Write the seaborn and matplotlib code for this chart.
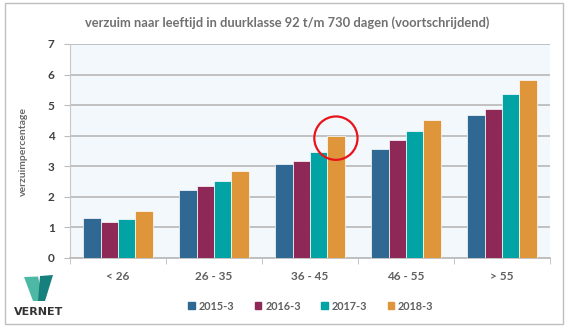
import matplotlib
matplotlib.use("Agg")
import matplotlib.pyplot as plt
import seaborn as sns
import pandas as pd
from matplotlib.patches import Ellipse, Rectangle, Polygon

categories = ["< 26", "26 - 35", "36 - 45", "46 - 55", "> 55"]
periods = ["2015-3", "2016-3", "2017-3", "2018-3"]
v2015 = [1.32, 2.23, 3.09, 3.56, 4.67]
v2016 = [1.17, 2.35, 3.18, 3.86, 4.86]
v2017 = [1.27, 2.53, 3.46, 4.16, 5.35]
v2018 = [1.55, 2.86, 4.00, 4.52, 5.83]
yticks = [0, 1, 2, 3, 4, 5, 6, 7]
title = "verzuim naar leeftijd in duurklasse 92 t/m 730 dagen (voortschrijdend)"
ylabel = "verzuimpercentage"

colors = ["#2F6893", "#8E2857", "#02A3A4", "#DF963B"]

rows = []
for p, vals in zip(periods, [v2015, v2016, v2017, v2018]):
    for c, v in zip(categories, vals):
        rows.append({"leeftijd": c, "periode": p, "pct": v})
df = pd.DataFrame(rows)

sns.set_style("white")
plt.rcParams["font.family"] = ["Lato", "DejaVu Sans"]

fig = plt.figure(figsize=(5.7, 3.3), dpi=100)
ax = fig.add_axes([70 / 570, 1 - 258 / 330, 480 / 570, (258 - 44) / 330])
ax.set_facecolor("#F3F8FC")

sns.barplot(data=df, x="leeftijd", y="pct", hue="periode", order=categories,
            hue_order=periods, palette=colors, saturation=1, width=0.72,
            edgecolor="white", linewidth=0.5, ax=ax, zorder=3)

ax.set_ylim(0, 7)
ax.set_xlim(-0.5, len(categories) - 0.5)
ax.set_yticks(yticks)
ax.set_yticklabels([str(t) for t in yticks], fontsize=8.5, fontweight="bold", color="#404040")
ax.grid(axis="y", color="#BDBDBD", linewidth=1.3, zorder=0)
ax.set_axisbelow(True)
for s in ["top", "right"]:
    ax.spines[s].set_visible(False)
ax.spines["left"].set_color("#C8C8C8")
ax.spines["bottom"].set_color("#BDBDBD")
ax.spines["bottom"].set_linewidth(1.3)
ax.tick_params(axis="y", length=4, color="#BDBDBD", pad=7, left=True)
ax.set_xticks(range(len(categories)))
ax.set_xticklabels(categories, fontsize=8.5, fontweight="bold", color="#606060")
ax.tick_params(axis="x", length=0, pad=9)
ax.set_xticks([i - 0.5 for i in range(len(categories) + 1)], minor=True)
ax.tick_params(axis="x", which="minor", length=4, color="#BDBDBD", bottom=True)
ax.set_xlabel("")
ax.set_ylabel(ylabel, fontsize=7.5, fontweight="bold", color="#6A6A6A", labelpad=14)

ax.legend_.remove()
handles = [Rectangle((0, 0), 1, 1, color=c) for c in colors]
fig.legend(handles, periods, loc="center", bbox_to_anchor=(311 / 570, 1 - 306 / 330),
           ncol=4, frameon=False, handlelength=0.6, handleheight=0.6,
           handletextpad=0.35, columnspacing=1.9,
           prop={"family": "Lato", "weight": "bold", "size": 7.8},
           labelcolor="#606060")

fig.text(287 / 570, 1 - 23 / 330, title, ha="center", va="center",
         fontsize=9.3, fontweight="bold", color="#707070")

# red circle highlight around 2018-3 bar of 36 - 45
bar = ax.containers[3][2]
cx = bar.get_x() + bar.get_width() / 2
cy = bar.get_height()
ax.add_patch(Ellipse((cx, cy - 0.08), width=0.45, height=1.42, fill=False,
                     edgecolor="#E8141B", linewidth=1.6, zorder=5, clip_on=False))

# outer border
fig.add_artist(Rectangle((5 / 570, 1 - 323.5 / 330), 558 / 570, 320.5 / 330,
                         transform=fig.transFigure, fill=False,
                         edgecolor="#BFBFBF", linewidth=1.0))

# logo
def px(pts):
    return [(x / 570, 1 - y / 330) for x, y in pts]
fig.add_artist(Polygon(px([(24, 277), (38, 276.5), (44, 301), (33, 301)]),
                       closed=True, transform=fig.transFigure,
                       facecolor="#4DB9A5", edgecolor="none"))
fig.add_artist(Polygon(px([(40, 276), (53, 275), (45, 301), (38, 301)]),
                       closed=True, transform=fig.transFigure,
                       facecolor="#16807F", edgecolor="none"))
fig.text(39 / 570, 1 - 312 / 330, "VERNET", ha="center", va="center",
         fontsize=8, fontweight="bold", color="#333333",
         family="DejaVu Sans")

fig.savefig("out.png", dpi=100, facecolor="white")
